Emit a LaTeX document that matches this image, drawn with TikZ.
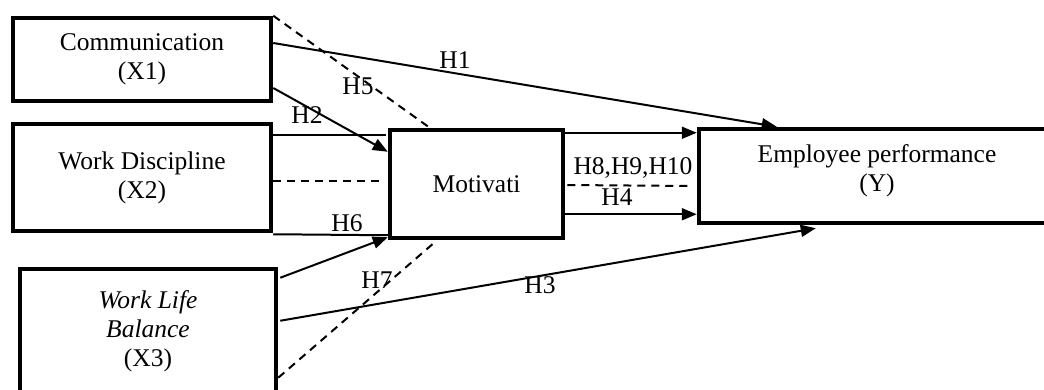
\documentclass[tikz,border=0pt]{standalone}
\usepackage{fontspec}
\setmainfont{Liberation Serif}
\usetikzlibrary{arrows.meta,calc}
\begin{document}
\begin{tikzpicture}[x=1pt,y=-1pt,
  box/.style={draw,line width=4.5pt,rectangle,inner sep=0pt,align=center,font=\fontsize{25.5}{29}\selectfont},
  txt/.style={inner sep=0pt,align=center,font=\fontsize{25.5}{29}\selectfont},
  lab/.style={inner sep=0pt,font=\fontsize{25.5}{29}\selectfont},
  conn/.style={line width=2pt},
  arr/.style={line width=2pt,-{Triangle[length=15pt,width=12pt]}},
  dconn/.style={line width=2pt,dash pattern=on 8pt off 6pt}]
\useasboundingbox (0,0) rectangle (1044,390);
\clip (0,0) rectangle (1044,390);
\node[box,minimum width=258pt,minimum height=83pt] (x1) at (142,59.5) {Communication\\(X1)};
\node[box,minimum width=258pt,minimum height=107pt] (x2) at (142,177.5) {Work Discipline\\(X2)};
\node[box,minimum width=256pt,minimum height=141pt] (x3) at (148,339.5) {};
\node[txt] (x3t) at (148,331) {\textit{Work Life}\\\textit{Balance}\\(X3)};
\node[box,minimum width=173pt,minimum height=108pt] (mot) at (476.5,184) {Motivati};
\node[box,minimum width=371pt,minimum height=94pt] (y) at (884.5,176) {};
\node[txt] (yt) at (877,171) {Employee performance\\(Y)};
% connectors
\draw[arr] ($(x1.east)+(0,-16.5)$) -- ($(y.north west)+(80,0)$);
\draw[dconn] (x1.north east) -- ($(mot.north west)+(42,0)$);
\draw[arr] ($(x1.east)+(0,28.5)$) -- ($(mot.north west)+(0,24)$);
\draw[conn] ($(x2.east)+(0,-42.5)$) -- ($(mot.west)+(-2,-49)$);
\draw[dconn] ($(x2.east)+(0,3.5)$) -- ($(mot.west)+(-8,-3)$);
\draw[conn] ($(x2.south east)+(0,1)$) -- ($(mot.south west)+(0,-5)$);
\draw[arr] ($(x3.north east)+(2,11)$) -- ($(mot.south west)+(0,-3)$);
\draw[arr] ($(x3.north east)+(2,54)$) -- ($(y.south west)+(119,3)$);
\draw[dconn] ($(x3.north east)+(0,111)$) -- ($(mot.south west)+(47,2)$);
\draw[arr] ($(mot.north east)+(0,5)$) -- ($(y.north west)+(0,6)$);
\draw[arr] ($(mot.south east)+(0,-26)$) -- ($(y.south west)+(0,-11)$);
\draw[dconn] ($(mot.east)+(2,1)$) -- ($(y.west)+(-7,10)$);
% labels
\node[lab] (h1) at (455,60) {H1};
\node[lab] (h5) at (358,86) {H5};
\node[lab] (h2) at (307,115) {H2};
\node[lab] (h6) at (347,223) {H6};
\node[lab] (h7) at (377,280) {H7};
\node[lab] (h3) at (540,285) {H3};
\node[lab] (h8) at (633,168) {H8,H9,H10};
\node[lab] (h4) at (617,197) {H4};
\end{tikzpicture}
\end{document}
